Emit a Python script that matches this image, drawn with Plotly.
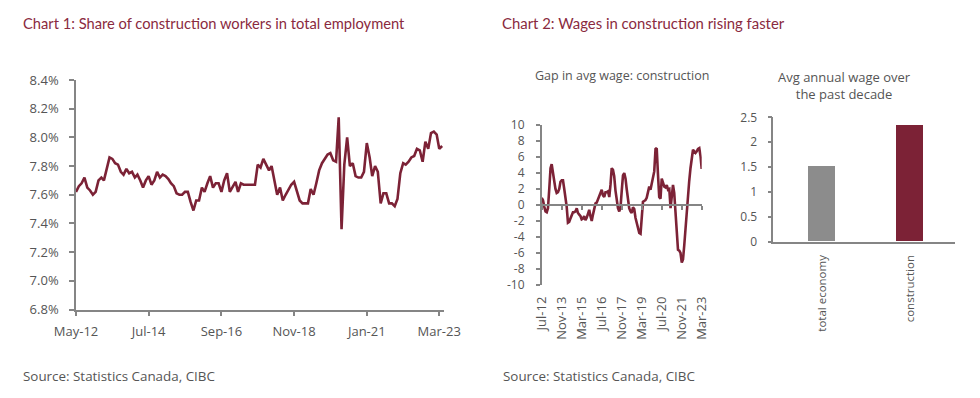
import pandas as pd
import plotly.graph_objects as go

# ---------------- Data ----------------
# Chart 1: share of construction workers in total employment (%), monthly from May-12
share_start = "2012-05-01"
share_values = [
    7.62, 7.66, 7.68, 7.72, 7.65, 7.63, 7.60, 7.62, 7.70, 7.72,
    7.70, 7.78, 7.86, 7.85, 7.82, 7.81, 7.76, 7.74, 7.78, 7.75,
    7.76, 7.72, 7.74, 7.70, 7.65, 7.70, 7.73, 7.67, 7.70, 7.76,
    7.72, 7.74, 7.73, 7.71, 7.68, 7.66, 7.61, 7.60, 7.60, 7.62,
    7.62, 7.55, 7.49, 7.56, 7.56, 7.65, 7.62, 7.68, 7.73, 7.65,
    7.68, 7.68, 7.62, 7.70, 7.75, 7.62, 7.66, 7.69, 7.62, 7.68,
    7.67, 7.67, 7.67, 7.67, 7.67, 7.81, 7.79, 7.85, 7.81, 7.77,
    7.80, 7.69, 7.60, 7.65, 7.56, 7.60, 7.64, 7.67, 7.69, 7.63,
    7.56, 7.54, 7.54, 7.54, 7.64, 7.60, 7.68, 7.77, 7.82, 7.85,
    7.88, 7.89, 7.84, 7.83, 8.14, 7.36, 7.81, 8.00, 7.80, 7.82,
    7.73, 7.72, 7.72, 7.76, 7.96, 7.86, 7.73, 7.80, 7.76, 7.54,
    7.61, 7.61, 7.54, 7.54, 7.52, 7.57, 7.75, 7.82, 7.81, 7.83,
    7.86, 7.87, 7.92, 7.91, 7.83, 7.97, 7.92, 8.03, 8.04, 8.02,
    7.92, 7.94,
]
share_tick_dates = ["2012-05-01", "2014-07-01", "2016-09-01", "2018-11-01", "2021-01-01", "2023-03-01"]
share_y_ticks = [6.8, 7.0, 7.2, 7.4, 7.6, 7.8, 8.0, 8.2, 8.4]

# Chart 2: gap in avg wage, construction vs total, monthly from Jul-12
gap_start = "2012-07-01"
gap_values = [
    0.9, 0.6, -0.2, -0.8, -0.9, -0.4, 2.0, 4.6, 5.1, 4.0,
    3.1, 2.0, 1.5, 1.6, 2.0, 2.9, 3.1, 3.1, 2.0, 0.9,
    -0.2, -2.2, -2.1, -1.7, -1.2, -0.9, -0.9, -0.8, -0.4, -1.0,
    -1.2, -1.4, -1.8, -1.7, -1.4, -1.9, -1.6, -1.2, -0.6, -1.4,
    -2.0, -1.2, -0.4, 0.2, 0.3, 0.7, 1.2, 1.6, 1.9, 1.2,
    1.0, 1.6, 1.6, 1.7, 1.0, 2.6, 4.6, 4.4, 3.6, 1.8,
    0.6, -0.4, -0.8, -0.3, 1.8, 3.7, 4.0, 3.3, 2.0, 0.6,
    -0.4, -0.8, -1.0, -0.3, -0.5, -1.6, -2.4, -2.9, -3.5, -3.6,
    -1.5, 0.4, 0.5, 0.6, 0.9, 1.8, 2.3, 1.9, 2.6, 3.4,
    4.2, 7.0, 7.1, 3.8, 1.0, 0.8, 3.3, 2.8, 2.3, 2.2,
    2.5, 1.9, 2.0, -0.4, 1.0, 2.5, 1.5, -0.8, -3.5, -5.6,
    -5.7, -6.0, -7.2, -6.8, -5.0, -2.8, -0.6, 1.5, 3.0, 4.6,
    6.0, 6.9, 6.7, 6.5, 6.7, 7.0, 7.1, 6.1, 4.5,
]
gap_tick_dates = ["2012-07-01", "2013-11-01", "2015-03-01", "2016-07-01", "2017-11-01",
                  "2019-03-01", "2020-07-01", "2021-11-01", "2023-03-01"]
gap_y_ticks = [-10, -8, -6, -4, -2, 0, 2, 4, 6, 8, 10]

# Chart 3: average annual wage growth over past decade
bar_categories = ["total economy", "construction"]
bar_values = [1.52, 2.33]
bar_y_ticks = [0, 0.5, 1, 1.5, 2, 2.5]

# ---------------- Style ----------------
W, H = 980, 398
FONT = "'Open Sans', sans-serif"
TFONT = "Lato, sans-serif"
MAROON = "#7c2236"
TITLE_C = "#8a2a40"
GREY_BAR = "#8c8c8c"
TXT = "#555555"
AXC = "#858585"


def fx(px):
    return px / W


def fy(py):
    return 1 - py / H


share_dates = pd.date_range(start=share_start, periods=len(share_values), freq="MS")
gap_dates = pd.date_range(start=gap_start, periods=len(gap_values), freq="MS")

fig = go.Figure()

fig.add_trace(go.Scatter(x=share_dates, y=share_values, mode="lines",
                         line=dict(color=MAROON, width=2.6), xaxis="x", yaxis="y",
                         showlegend=False))
fig.add_trace(go.Scatter(x=gap_dates, y=gap_values, mode="lines",
                         line=dict(color=MAROON, width=2.6), xaxis="x2", yaxis="y2",
                         showlegend=False))
# invisible trace to carry the zero-line tick axis
fig.add_trace(go.Scatter(x=[gap_dates[0], gap_dates[-1]], y=[0, 0], mode="lines",
                         line=dict(width=0), opacity=0, hoverinfo="skip",
                         xaxis="x3", yaxis="y2", showlegend=False))
fig.add_trace(go.Bar(x=bar_categories, y=bar_values, marker=dict(color=[GREY_BAR, MAROON], line=dict(width=0)),
                     width=0.3, xaxis="x4", yaxis="y3", showlegend=False))

tickfont = dict(family=FONT, size=13, color=TXT)
tickfont_small = dict(family=FONT, size=12, color=TXT)
tickfont_cat = dict(family=FONT, size=11.5, color=TXT)

gap_domain_y = [fy(285), fy(125)]
common = dict(automargin=False, showgrid=False, zeroline=False)

fig.update_layout(
    width=W, height=H,
    margin=dict(l=0, r=0, t=0, b=0, autoexpand=False),
    paper_bgcolor="white", plot_bgcolor="white",
    font=dict(family=FONT, color=TXT),
    # Chart 1
    xaxis=dict(domain=[fx(76), fx(444.3)], anchor="y", type="date",
               range=["2012-05-01", "2023-04-25"],
               tickvals=share_tick_dates, tickformat="%b-%y",
               showline=True, linecolor=AXC, linewidth=1.5,
               ticks="outside", ticklen=5, tickcolor=AXC, tickwidth=1.5,
               tickfont=tickfont, ticklabelstandoff=4, **common),
    yaxis=dict(domain=[fy(309.5), fy(80)], anchor="x", range=[6.8, 8.4],
               tickvals=share_y_ticks,
               ticktext=[f"{v:.1f}%" for v in share_y_ticks],
               showline=True, linecolor=AXC, linewidth=1.5,
               ticks="outside", ticklen=5, tickcolor=AXC, tickwidth=1.5,
               tickfont=tickfont, ticklabelstandoff=8, **common),
    # Chart 2
    xaxis2=dict(domain=[fx(541.7), fx(701.7)], anchor="y2", type="date",
                range=["2012-07-01", "2023-03-01"],
                tickvals=gap_tick_dates, tickformat="%b-%y", tickangle=-90,
                showline=False, ticks="",
                tickfont=tickfont, ticklabelstandoff=8, **common),
    xaxis3=dict(domain=[fx(541.7), fx(701.7)], anchor="free", overlaying="x2",
                position=(gap_domain_y[0] + gap_domain_y[1]) / 2,
                type="date", range=["2012-07-01", "2023-03-01"],
                tickvals=gap_tick_dates, showticklabels=False,
                showline=True, linecolor=AXC, linewidth=1.5,
                ticks="outside", ticklen=4, tickcolor=AXC, tickwidth=1.5, **common),
    yaxis2=dict(domain=gap_domain_y, anchor="x2", range=[-10, 10],
                tickvals=gap_y_ticks,
                ticktext=[str(v) for v in gap_y_ticks],
                showline=True, linecolor=AXC, linewidth=1.5,
                ticks="outside", ticklen=4, tickcolor=AXC, tickwidth=1.5,
                tickfont=tickfont_small, ticklabelstandoff=9, **common),
    # Chart 3
    xaxis4=dict(domain=[fx(773.3), fx(955)], anchor="y3", type="category",
                range=[-0.55, 1.51], tickangle=-90,
                showline=True, linecolor=AXC, linewidth=1.5, ticks="",
                tickfont=tickfont_cat, ticklabelstandoff=7, **common),
    yaxis3=dict(domain=[fy(241.7), fy(117.3)], anchor="x4", range=[0, 2.5],
                tickvals=bar_y_ticks,
                showline=True, linecolor=AXC, linewidth=1.5,
                ticks="outside", ticklen=4, tickcolor=AXC, tickwidth=1.5,
                tickfont=tickfont_small, ticklabelstandoff=8, **common),
    bargap=0.0,
)

annos = [
    dict(text="Chart 1: Share of construction workers in total employment", x=fx(21), y=fy(23),
         font=dict(family=TFONT, size=14.7, color=TITLE_C), xanchor="left"),
    dict(text="Chart 2: Wages in construction rising faster", x=fx(500), y=fy(23),
         font=dict(family=TFONT, size=14.9, color=TITLE_C), xanchor="left"),
    dict(text="Gap in avg wage: construction", x=fx(621.5), y=fy(76),
         font=dict(family=FONT, size=12.5, color=TXT), xanchor="center"),
    dict(text="Avg annual wage over<br>the past decade", x=fx(844), y=fy(85.5),
         font=dict(family=FONT, size=13, color=TXT), xanchor="center"),
    dict(text="Source: Statistics Canada, CIBC", x=fx(21), y=fy(376),
         font=dict(family=FONT, size=13.4, color=TXT), xanchor="left"),
    dict(text="Source: Statistics Canada, CIBC", x=fx(501), y=fy(376),
         font=dict(family=FONT, size=13.4, color=TXT), xanchor="left"),
]
for a in annos:
    a.update(xref="paper", yref="paper", yanchor="middle", showarrow=False)
fig.update_layout(annotations=annos)

# remove the browser's default body margin so the figure sits at the page origin
fig.write_html("out.html", config={"displayModeBar": False},
               post_script="document.body.style.margin='0';")
